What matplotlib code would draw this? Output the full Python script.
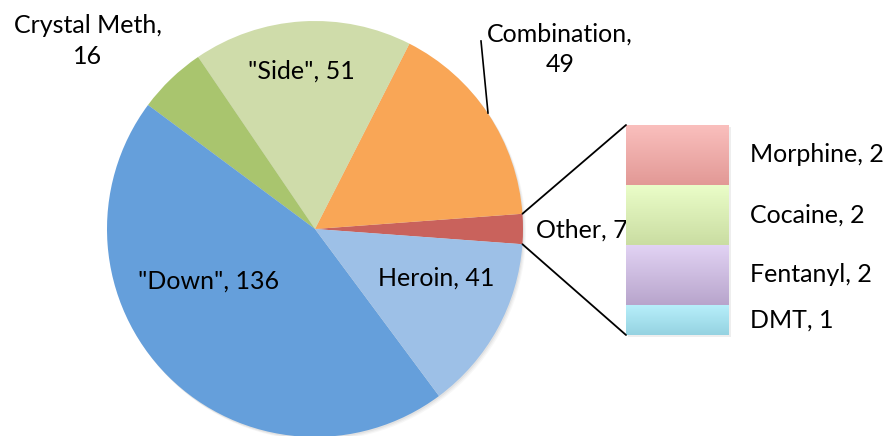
import matplotlib
matplotlib.use("Agg")
import matplotlib.pyplot as plt
import numpy as np
from matplotlib.patches import Circle, Rectangle, ConnectionPatch

plt.rcParams['font.family'] = ['Lato', 'DejaVu Sans']

# pie data (counterclockwise from the "Other" slice)
pie_names = ['Other', 'Combination', '"Side"', 'Crystal Meth', '"Down"', 'Heroin']
pie_values = [7, 49, 51, 16, 136, 41]
pie_colors = ['#C9625C', '#F9A656', '#CFDCAA', '#A9C56E', '#659FDB', '#9DC0E7']

# breakdown of "Other" (bottom to top)
bar_names = ['DMT', 'Fentanyl', 'Cocaine', 'Morphine']
bar_values = [1, 2, 2, 2]
bar_top_colors = ['#B8F0FB', '#E2D3F4', '#EAFDC8', '#FABFBD']
bar_bot_colors = ['#95D2E1', '#B8A5CC', '#CADDA2', '#E29996']

W, H = 890, 436
fig = plt.figure(figsize=(W / 100, H / 100), dpi=100)
ax = fig.add_axes([0, 0, 1, 1])

cx, cy, r = 315, 207, 208
other_angle = pie_values[0] / sum(pie_values) * 360
start = -other_angle / 2

# soft shadow
for k, a in enumerate([0.10, 0.08, 0.06]):
    ax.add_patch(Circle((cx + 1 + k, cy - 1.5 - k), r, color='#808080', alpha=a, lw=0, zorder=0))

wedges, _ = ax.pie(pie_values, colors=pie_colors, startangle=start, counterclock=True,
                   center=(cx, cy), radius=r, frame=True,
                   wedgeprops=dict(linewidth=0))
ax.set_xlim(0, W)
ax.set_ylim(0, H)
ax.set_aspect('equal')
ax.axis('off')

fs = 18
labels = [f'{n}, {v}' for n, v in zip(pie_names, pie_values)]
ax.text(582, H - 230, labels[0], fontsize=fs, ha='center', va='center')
ax.text(560, H - 49, f'{pie_names[1]},\n{pie_values[1]}', fontsize=fs, ha='center', va='center',
        linespacing=1.4)
ax.text(301, H - 71, labels[2], fontsize=fs, ha='center', va='center')
ax.text(88, H - 41, f'{pie_names[3]},\n{pie_values[3]}', fontsize=fs, ha='center', va='center',
        linespacing=1.4)
ax.text(209, H - 281, labels[4], fontsize=fs, ha='center', va='center')
ax.text(436, H - 278, labels[5], fontsize=fs, ha='center', va='center')
# leader line for Combination
ax.plot([481, 488], [H - 41, H - 113], color='black', lw=1.2)

# bar of pie
bx = fig.add_axes([626 / W, (H - 335) / H, 103 / W, 210 / H])
bottoms = np.concatenate([[0], np.cumsum(bar_values)[:-1]])
bars = bx.bar([0.5] * len(bar_values), bar_values, bottom=bottoms, width=1.0, linewidth=0)
grad = np.linspace(0, 1, 64)[:, None, None]
for b, c0, c1 in zip(bars, bar_top_colors, bar_bot_colors):
    y0, h = b.get_y(), b.get_height()
    rgb_bot = np.array(matplotlib.colors.to_rgb(c1))
    rgb_top = np.array(matplotlib.colors.to_rgb(c0))
    img = rgb_bot[None, None, :] * (1 - grad) + rgb_top[None, None, :] * grad
    im = bx.imshow(img, extent=(0, 1, y0, y0 + h), origin='lower', aspect='auto', zorder=2)
    im.set_clip_path(b)
    b.set_alpha(0)
bx.set_xlim(0, 1)
bx.set_ylim(0, sum(bar_values))
bx.axis('off')

# bar shadow
ax.add_patch(Rectangle((628, H - 337), 103, 210, color='#909090', alpha=0.15, lw=0, zorder=0))

for name, v, b0 in zip(bar_names, bar_values, bottoms):
    yc = b0 + v / 2
    bx.text(1.2, yc, f'{name}, {v}', fontsize=fs, ha='left', va='center', clip_on=False)

# connector lines from the Other slice to the bar
for ang, by in [(start + other_angle, sum(bar_values)), (start, 0)]:
    px = cx + r * np.cos(np.radians(ang))
    py = cy + r * np.sin(np.radians(ang))
    con = ConnectionPatch(xyA=(px, py), coordsA=ax.transData, xyB=(0, by), coordsB=bx.transData,
                          color='black', lw=1.3)
    fig.add_artist(con)

fig.savefig('out.png', dpi=100)
